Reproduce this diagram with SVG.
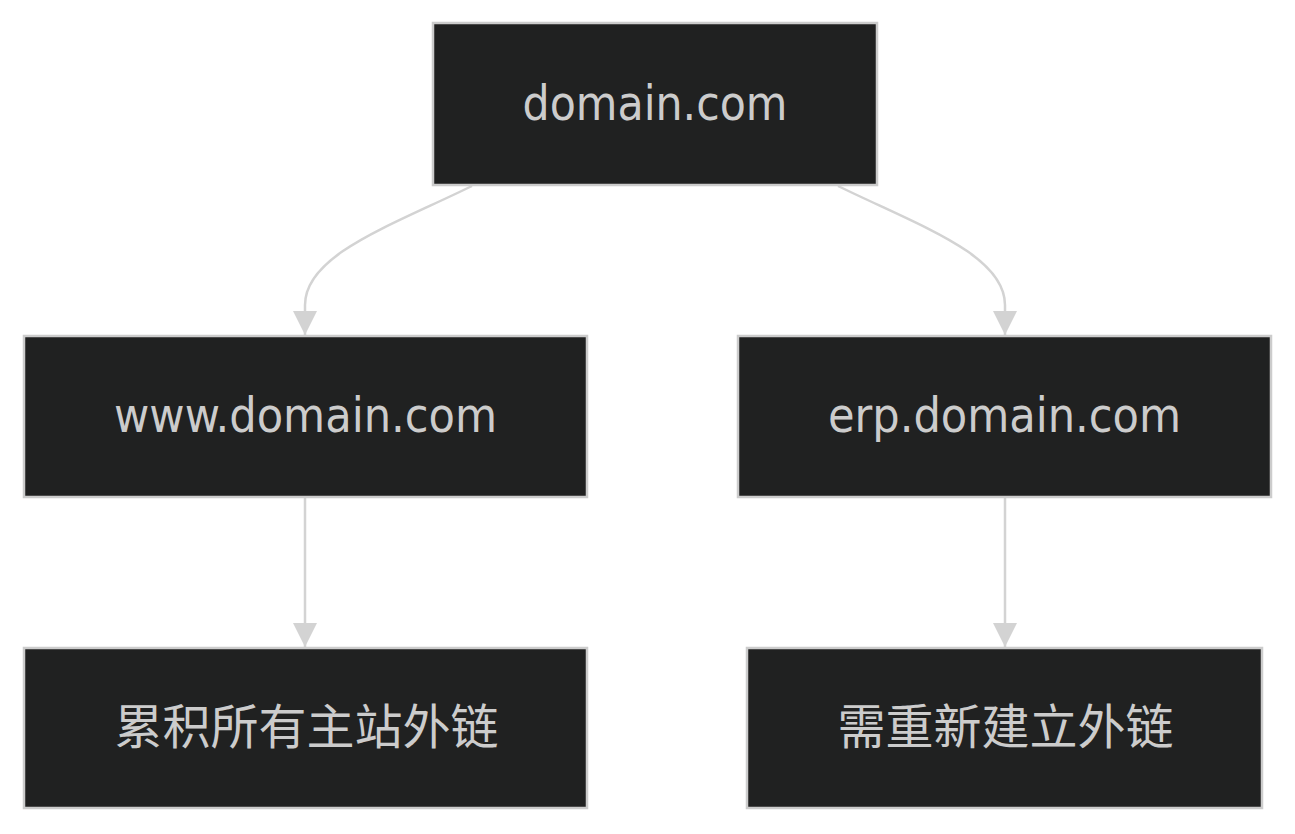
<svg xmlns="http://www.w3.org/2000/svg" width="1295" height="834" viewBox="0 0 1295 834">
<style>
.node rect{fill:#202121;stroke:#cccccc;stroke-width:2.5}
.node text{fill:#cccccc;font-family:"DejaVu Sans Condensed","DejaVu Sans","Noto Sans CJK SC",sans-serif;font-stretch:condensed;font-size:48px;text-anchor:middle}
.edge{fill:none;stroke:#d3d3d3;stroke-width:2.5}
</style>
<defs>
<marker id="arrow" markerUnits="userSpaceOnUse" markerWidth="24" markerHeight="24" viewBox="0 0 24 24" refX="24" refY="12" orient="auto">
<path d="M0,0 L24,12 L0,24 z" fill="#d3d3d3"/>
</marker>
</defs>
<rect width="1295" height="834" fill="#ffffff"/>
<g id="connectors">
<path class="edge" d="M472,186 C390,226 305,255 305,305 L305,335" marker-end="url(#arrow)"/>
<path class="edge" d="M838,186 C920,226 1005,255 1005,305 L1005,335" marker-end="url(#arrow)"/>
<path class="edge" d="M305,498 L305,647" marker-end="url(#arrow)"/>
<path class="edge" d="M1005,498 L1005,647" marker-end="url(#arrow)"/>
</g>
<g id="node-domain" class="node">
<rect x="433" y="23" width="444" height="162"/>
<text x="655" y="120" style="font-size:47.5px">domain.com</text>
</g>
<g id="node-www" class="node">
<rect x="24" y="336" width="563" height="161"/>
<text x="305.5" y="432">www.domain.com</text>
</g>
<g id="node-erp" class="node">
<rect x="738" y="336" width="533" height="161"/>
<text x="1004.5" y="432">erp.domain.com</text>
</g>
<g id="node-main" class="node">
<rect x="24" y="648" width="563" height="160"/>
<text x="306.5" y="744">累积所有主站外链</text>
</g>
<g id="node-new" class="node">
<rect x="747" y="648" width="515" height="160"/>
<text x="1005.5" y="744">需重新建立外链</text>
</g>
</svg>
